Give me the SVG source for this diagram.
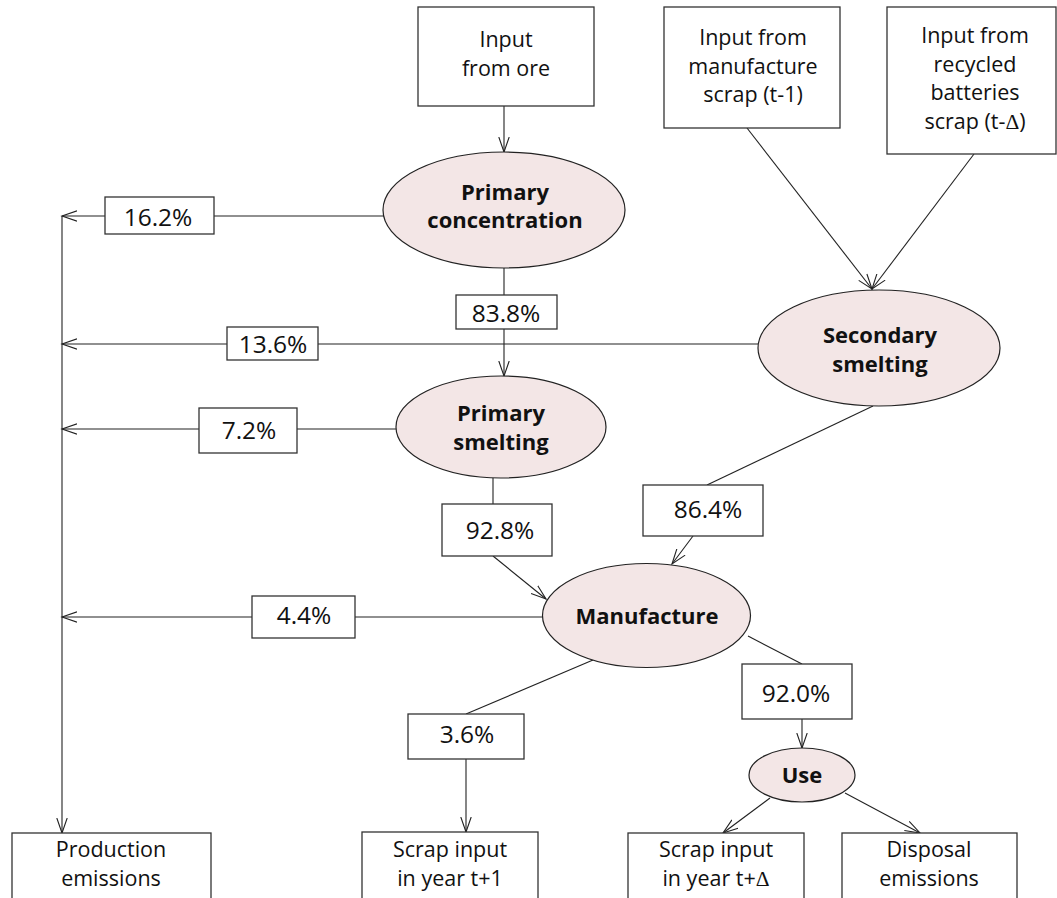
<svg xmlns="http://www.w3.org/2000/svg" width="1057" height="898" viewBox="0 0 1057 898">
<defs>
<marker id="arr" markerUnits="userSpaceOnUse" markerWidth="18" markerHeight="14" refX="15" refY="6" orient="auto" viewBox="0 0 18 12">
<path d="M0,0.8 L15,6 L0,11.2" fill="none" stroke="#222" stroke-width="1.1"/>
</marker>
<style>
.box{fill:#fff;stroke:#333;stroke-width:1.3}
.ell{fill:#f3e6e6;stroke:#222;stroke-width:1.2}
.ln{fill:none;stroke:#222;stroke-width:1.1}
.ar{fill:none;stroke:#222;stroke-width:1.1;marker-end:url(#arr)}
text{font-family:"Open Sans","Noto Sans","Liberation Sans",sans-serif;fill:#111;text-anchor:middle}
.t{font-size:21.5px}
.p{font-size:24.5px}
.b{font-size:22px;font-weight:bold}
.d{font-family:"Liberation Serif","DejaVu Serif",serif}
</style>
</defs>
<rect width="1057" height="898" fill="#fff"/>
<g id="connectors">
<line class="ar" x1="504" y1="106" x2="504" y2="152"/>
<line class="ar" x1="384" y1="216" x2="62" y2="216"/>
<line class="ar" x1="504" y1="268" x2="504" y2="376"/>
<line class="ar" x1="758" y1="344" x2="62" y2="344"/>
<line class="ar" x1="396" y1="429" x2="62" y2="429"/>
<line class="ar" x1="543" y1="617" x2="62" y2="617"/>
<line class="ar" x1="62" y1="216" x2="62" y2="833"/>
<line class="ar" x1="747" y1="128" x2="872" y2="289"/>
<line class="ar" x1="974" y1="154" x2="872" y2="289"/>
<line class="ln" x1="873" y1="406" x2="707" y2="485"/>
<line class="ar" x1="693" y1="536" x2="672" y2="564"/>
<line class="ln" x1="493" y1="478" x2="493" y2="504"/>
<line class="ar" x1="493" y1="556" x2="546" y2="599"/>
<line class="ln" x1="593" y1="660" x2="466" y2="714"/>
<line class="ar" x1="466" y1="759" x2="466" y2="832"/>
<line class="ln" x1="748" y1="636" x2="802" y2="664"/>
<line class="ar" x1="802" y1="719" x2="802" y2="748"/>
<line class="ar" x1="770" y1="798" x2="723" y2="833"/>
<line class="ar" x1="845" y1="793" x2="920" y2="833"/>
</g>
<g id="input-ore"><rect class="box" x="418" y="7" width="176" height="99"/><text class="t" x="506" y="47">Input</text><text class="t" x="506" y="76">from ore</text></g>
<g id="input-manuf-scrap"><rect class="box" x="664" y="7" width="176" height="121"/><text class="t" x="753" y="45">Input from</text><text class="t" x="753" y="74">manufacture</text><text class="t" x="753" y="102">scrap (t-1)</text></g>
<g id="input-recycled"><rect class="box" x="887" y="7" width="169" height="147"/><text class="t" x="975" y="43">Input from</text><text class="t" x="975" y="72">recycled</text><text class="t" x="975" y="100">batteries</text><text class="t" x="975" y="129">scrap (t-<tspan class="d">Δ</tspan>)</text></g>
<g id="primary-concentration"><ellipse class="ell" cx="504" cy="210" rx="121" ry="58"/><text class="b" x="505" y="200">Primary</text><text class="b" x="505" y="228">concentration</text></g>
<g id="secondary-smelting"><ellipse class="ell" cx="879" cy="348" rx="121" ry="58"/><text class="b" x="880" y="343">Secondary</text><text class="b" x="880" y="372">smelting</text></g>
<g id="primary-smelting"><ellipse class="ell" cx="501" cy="427" rx="105" ry="51"/><text class="b" x="501" y="421">Primary</text><text class="b" x="501" y="450">smelting</text></g>
<g id="manufacture"><ellipse class="ell" cx="646.5" cy="615.5" rx="104" ry="52"/><text class="b" x="647" y="624">Manufacture</text></g>
<g id="use"><ellipse class="ell" cx="802" cy="775" rx="53" ry="27"/><text class="b" x="802" y="783">Use</text></g>
<g id="p16-2"><rect class="box" x="105" y="197" width="109" height="37"/><text class="p" x="158" y="226">16.2%</text></g>
<g id="p83-8"><rect class="box" x="456" y="295" width="101" height="34"/><text class="p" x="506" y="322">83.8%</text></g>
<g id="p13-6"><rect class="box" x="227" y="327" width="91" height="33"/><text class="p" x="273" y="353">13.6%</text></g>
<g id="p7-2"><rect class="box" x="199" y="408" width="98" height="45"/><text class="p" x="249" y="439">7.2%</text></g>
<g id="p92-8"><rect class="box" x="442" y="504" width="110" height="52"/><text class="p" x="500" y="539">92.8%</text></g>
<g id="p86-4"><rect class="box" x="643" y="485" width="120" height="51"/><text class="p" x="708" y="518">86.4%</text></g>
<g id="p4-4"><rect class="box" x="252" y="596" width="103" height="42"/><text class="p" x="304" y="624">4.4%</text></g>
<g id="p3-6"><rect class="box" x="408" y="714" width="116" height="45"/><text class="p" x="467" y="743">3.6%</text></g>
<g id="p92-0"><rect class="box" x="742" y="664" width="110" height="55"/><text class="p" x="796" y="702">92.0%</text></g>
<g id="production-emissions"><rect class="box" x="12" y="833" width="199" height="100"/><text class="t" x="111" y="857">Production</text><text class="t" x="111" y="886">emissions</text></g>
<g id="scrap-t1"><rect class="box" x="362" y="832" width="176" height="100"/><text class="t" x="450" y="857">Scrap input</text><text class="t" x="450" y="886">in year t+1</text></g>
<g id="scrap-tdelta"><rect class="box" x="628" y="833" width="176" height="100"/><text class="t" x="716" y="857">Scrap input</text><text class="t" x="716" y="886">in year t+<tspan class="d">Δ</tspan></text></g>
<g id="disposal-emissions"><rect class="box" x="842" y="833" width="175" height="100"/><text class="t" x="929" y="857">Disposal</text><text class="t" x="929" y="886">emissions</text></g>
</svg>
